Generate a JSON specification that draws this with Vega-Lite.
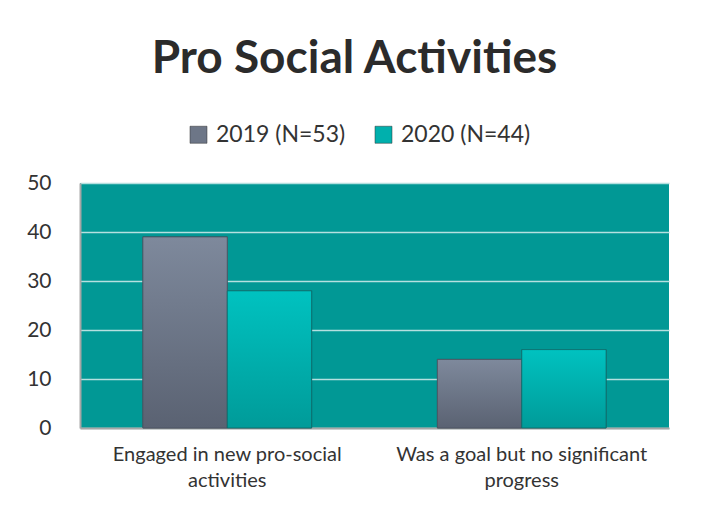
{
  "$schema": "https://vega.github.io/schema/vega-lite/v6.json",
  "width": 589,
  "height": 245,
  "autosize": {"type": "none"},
  "padding": {"left": 80, "top": 183, "right": 33, "bottom": 80},
  "background": "white",
  "title": {
    "text": "Pro Social Activities",
    "fontSize": 46,
    "font": "Lato",
    "fontWeight": "bold",
    "color": "#2b2b2b",
    "anchor": "middle",
    "dx": -20,
    "offset": 40
  },
  "data": {
    "values": [
      {"category": "Engaged in new pro-social activities", "year": "2019 (N=53)", "value": 39},
      {"category": "Engaged in new pro-social activities", "year": "2020 (N=44)", "value": 28},
      {"category": "Was a goal but no significant progress", "year": "2019 (N=53)", "value": 14},
      {"category": "Was a goal but no significant progress", "year": "2020 (N=44)", "value": 16}
    ]
  },
  "encoding": {
    "x": {
      "field": "category",
      "type": "nominal",
      "sort": null,
      "title": null,
      "scale": {"paddingInner": 0.427, "paddingOuter": 0.2135},
      "axis": {
        "labelAngle": 0,
        "labelFont": "Lato",
        "labelFontSize": 20,
        "labelColor": "#333333",
        "labelLineHeight": 26,
        "labelPadding": 16,
        "labelLimit": 500,
        "ticks": false,
        "domainColor": "#a6a6a6",
        "domainWidth": 2,
        "labelExpr": "datum.label == 'Engaged in new pro-social activities' ? ['Engaged in new pro-social', 'activities'] : ['Was a goal but no significant', 'progress']"
      }
    },
    "xOffset": {"field": "year", "type": "nominal"},
    "y": {
      "field": "value",
      "type": "quantitative",
      "title": null,
      "scale": {"domain": [0, 50]},
      "axis": {
        "values": [0, 10, 20, 30, 40, 50],
        "labelFont": "Lato",
        "labelFontSize": 21,
        "labelColor": "#333333",
        "labelPadding": 29,
        "ticks": false,
        "domainColor": "#a6a6a6",
        "domainWidth": 2,
        "grid": true,
        "gridColor": "#b5e0e0",
        "gridWidth": 1.5
      }
    }
  },
  "layer": [
    {
      "mark": {"type": "bar", "stroke": "#3a4a50", "strokeWidth": 0.6},
      "encoding": {
        "color": {
          "field": "year",
          "type": "nominal",
          "title": null,
          "scale": {"range": ["#6d7687", "#00b0ad"]},
          "legend": {
            "orient": "none",
            "legendX": 107,
            "legendY": -60,
            "direction": "horizontal",
            "symbolType": "square",
            "symbolSize": 290,
            "symbolStrokeColor": "#333333",
            "symbolStrokeWidth": 0.5,
            "labelFont": "Lato",
            "labelFontSize": 23,
            "labelColor": "#333333",
            "labelOffset": 6,
            "columnPadding": 26
          }
        }
      }
    },
    {
      "transform": [{"filter": "datum.year == '2019 (N=53)'"}],
      "mark": {
        "type": "bar",
        "stroke": "#4a5260",
        "strokeWidth": 0.8,
        "fill": {
          "gradient": "linear",
          "x1": 0, "y1": 0, "x2": 0, "y2": 1,
          "stops": [
            {"offset": 0, "color": "#7e899c"},
            {"offset": 1, "color": "#5a6272"}
          ]
        }
      }
    },
    {
      "transform": [{"filter": "datum.year == '2020 (N=44)'"}],
      "mark": {
        "type": "bar",
        "stroke": "#0a6a68",
        "strokeWidth": 0.8,
        "fill": {
          "gradient": "linear",
          "x1": 0, "y1": 0, "x2": 0, "y2": 1,
          "stops": [
            {"offset": 0, "color": "#00c2c0"},
            {"offset": 1, "color": "#009b99"}
          ]
        }
      }
    }
  ],
  "config": {
    "view": {"fill": "#019895", "stroke": null}
  }
}
